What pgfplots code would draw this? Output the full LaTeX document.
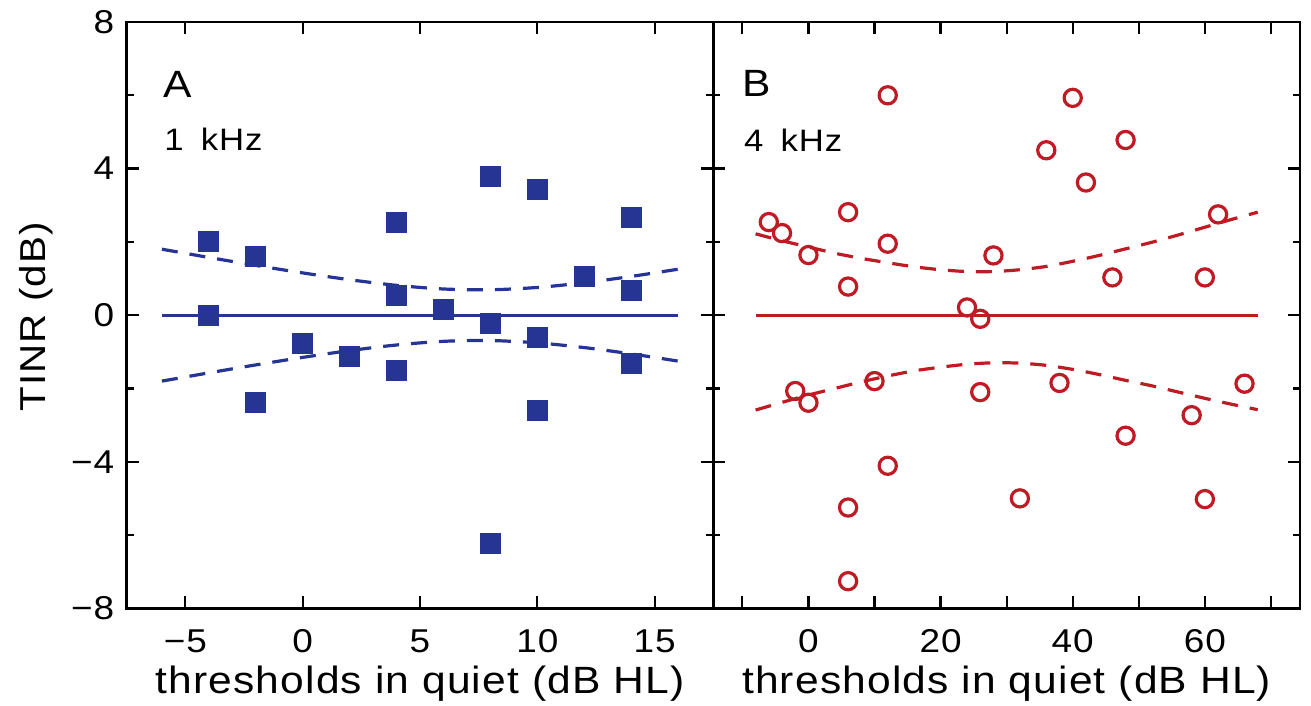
\documentclass[border=0pt]{standalone}
\usepackage{fontspec}
\setmainfont{Liberation Sans}[FakeStretch=1.12, LetterSpace=3]
\usepackage{pgfplots}
\pgfplotsset{compat=1.18}
\definecolor{myblue}{RGB}{38,52,148}
\definecolor{myred}{RGB}{190,27,36}
\pgfplotsset{
  panel/.style={
    scale only axis, height=293.15pt,
    ymin=-8, ymax=8,
    ytick={-8,-4,0,4,8}, minor ytick={-6,-2,2,6},
    axis line style={line width=1.3pt},
    tick style={black, line width=1.1pt},
    major tick length=6pt, minor tick length=3.5pt,
    tick label style={font=\fontsize{16.5}{16.5}\selectfont},
    xticklabel style={anchor=north, inner sep=0pt, yshift=-10.5pt},
    yticklabel style={anchor=east, inner sep=0pt, xshift=-6pt},
    every axis x label/.style={at={(axis description cs:0.5,0)}, anchor=base, yshift=-42.5pt, inner sep=0pt, font=\fontsize{19}{19}\selectfont},
    xlabel={thresholds in quiet (dB HL)},
  }
}
\begin{document}
\begin{tikzpicture}
\useasboundingbox (0,0) rectangle (655.5pt,353pt);
\begin{axis}[panel, at={(63.35pt,48.85pt)}, anchor=south west, width=293.3pt,
  xmin=-7.5, xmax=17.5, xtick={-5,0,5,10,15}, xticklabels={−5,0,5,10,15},
  yticklabels={−8,−4,0,4,8}]
\addplot[myblue, line width=1.5pt] coordinates {(-6,0) (16,0)};
\addplot[myblue, line width=1.6pt, dash pattern=on 8pt off 6pt, smooth] coordinates {
(-6,1.80) (-4,1.575) (-2,1.358) (0,1.153) (2,0.967) (4,0.814) (6,0.714) (8,0.693) (10,0.756) (12,0.885) (14,1.057) (16,1.254)};
\addplot[myblue, line width=1.6pt, dash pattern=on 8pt off 6pt, smooth] coordinates {
(-6,-1.80) (-4,-1.575) (-2,-1.358) (0,-1.153) (2,-0.967) (4,-0.814) (6,-0.714) (8,-0.693) (10,-0.756) (12,-0.885) (14,-1.057) (16,-1.254)};
\addplot[only marks, mark=square*, mark size=5pt, mark options={draw=myblue, fill=myblue, line width=0.4pt}] coordinates {
(-4,2.01) (-4,0.0) (-2,1.6) (-2,-2.37) (0,-0.77) (2,-1.13) (4,2.53) (4,0.53) (4,-1.5) (6,0.15)
(8,3.8) (8,-0.22) (8,-6.23) (10,3.42) (10,-0.6) (10,-2.6) (12,1.05) (14,2.68) (14,0.68) (14,-1.32)};
\node[anchor=base west, font=\fontsize{19}{19}\selectfont, inner sep=0pt] at (rel axis cs:0.062,0.872) {A};
\node[anchor=base west, font=\fontsize{15.5}{15.5}\selectfont, inner sep=0pt] at (rel axis cs:0.0636,0.7805) {1\hspace{0.55em}kHz};
\end{axis}
\begin{axis}[panel, at={(356.65pt,48.85pt)}, anchor=south west, width=293.35pt,
  xmin=-14.4, xmax=74.4, xtick={-10,0,...,70}, xticklabels={,0,,20,,40,,60,},
  yticklabels={,,,,}]
\addplot[myred, line width=1.5pt] coordinates {(-8,0) (68,0)};
\addplot[myred, line width=1.6pt, dash pattern=on 8pt off 6pt, smooth] coordinates {
(-8,2.22) (-4,2.03) (0,1.86) (4,1.69) (8,1.55) (12,1.43) (16,1.32) (20,1.24) (24,1.19) (28,1.19)
(32,1.24) (36,1.33) (40,1.47) (44,1.63) (48,1.81) (52,1.99) (56,2.19) (60,2.40) (64,2.61) (68,2.81)};
\addplot[myred, line width=1.6pt, dash pattern=on 8pt off 6pt, smooth] coordinates {
(-8,-2.59) (-4,-2.38) (0,-2.18) (4,-2.0) (8,-1.82) (12,-1.66) (16,-1.52) (20,-1.42) (24,-1.34) (28,-1.30)
(32,-1.31) (36,-1.37) (40,-1.48) (44,-1.62) (48,-1.78) (52,-1.93) (56,-2.10) (60,-2.27) (64,-2.43) (68,-2.58)};
\addplot[only marks, mark=o, mark size=4.3pt, mark options={draw=myred, line width=1.6pt}] coordinates {
(-6,2.54) (-4,2.24) (0,1.64) (6,2.81) (12,6.0) (12,1.95) (6,0.78) (28,1.63) (24,0.21) (26,-0.1)
(40,5.93) (36,4.5) (48,4.78) (42,3.62) (46,1.03) (60,1.03) (62,2.75)
(-2,-2.07) (0,-2.39) (10,-1.8) (26,-2.1) (12,-4.11) (6,-5.25) (6,-7.26)
(32,-5.0) (38,-1.85) (48,-3.29) (58,-2.73) (60,-5.02) (66,-1.87)};
\node[anchor=base west, font=\fontsize{19}{19}\selectfont, inner sep=0pt] at (rel axis cs:0.049,0.8725) {B};
\node[anchor=base west, font=\fontsize{15.5}{15.5}\selectfont, inner sep=0pt] at (rel axis cs:0.052,0.779) {4\hspace{0.55em}kHz};
\end{axis}
\node[rotate=90, anchor=base, inner sep=0pt, font=\fontsize{18}{18}\selectfont] at (22.5pt,194.5pt) {TINR (dB)};
\end{tikzpicture}
\end{document}
